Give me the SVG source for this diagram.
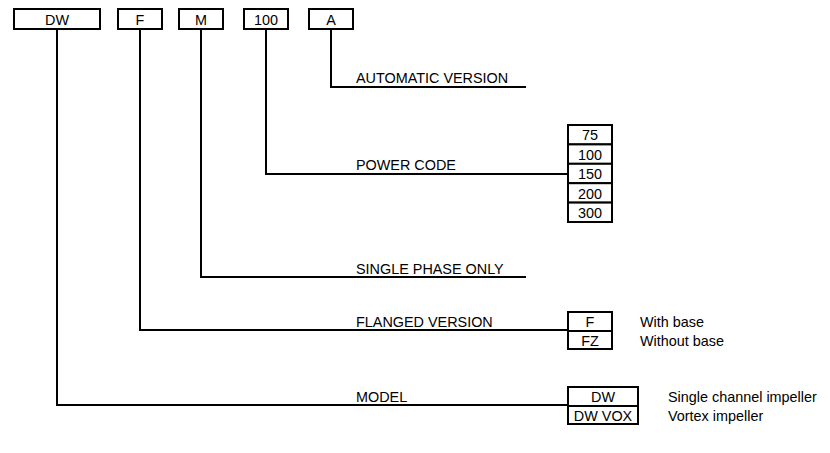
<svg xmlns="http://www.w3.org/2000/svg" width="830" height="453" viewBox="0 0 830 453">
<style>
.b{fill:#fff;stroke:#000;stroke-width:2}
.l{fill:none;stroke:#000;stroke-width:2}
text{font-family:"Liberation Sans",Arial,sans-serif;font-size:14.4px;fill:#000}
.c{text-anchor:middle}
</style>
<rect width="830" height="453" fill="#fff"/>
<g id="connectors">
<polyline class="l" points="331,29 331,87 526,87"/>
<polyline class="l" points="266,29 266,174 568,174"/>
<polyline class="l" points="201,29 201,277 526,277"/>
<polyline class="l" points="140,29 140,330 568,330"/>
<polyline class="l" points="57,29 57,405 568,405"/>
</g>
<g id="box-dw"><rect class="b" x="14" y="9" width="86" height="20"/><text class="c" x="57" y="24.5">DW</text></g>
<g id="box-f"><rect class="b" x="118" y="9" width="44" height="20"/><text class="c" x="140" y="24.5">F</text></g>
<g id="box-m"><rect class="b" x="179" y="9" width="44" height="20"/><text class="c" x="201" y="24.5">M</text></g>
<g id="box-100"><rect class="b" x="244" y="9" width="44" height="20"/><text class="c" x="266" y="24.5">100</text></g>
<g id="box-a"><rect class="b" x="309" y="9" width="44" height="20"/><text class="c" x="331" y="24.5">A</text></g>
<g id="label-auto"><text x="356" y="83">AUTOMATIC VERSION</text></g>
<g id="label-power"><text x="356" y="170">POWER CODE</text></g>
<g id="label-single"><text x="356" y="274">SINGLE PHASE ONLY</text></g>
<g id="label-flanged"><text x="356" y="327">FLANGED VERSION</text></g>
<g id="label-model"><text x="356" y="402">MODEL</text></g>
<g id="power-list">
<rect class="b" x="568" y="125" width="44" height="19.4"/>
<rect class="b" x="568" y="144.4" width="44" height="19.4"/>
<rect class="b" x="568" y="163.8" width="44" height="19.4"/>
<rect class="b" x="568" y="183.2" width="44" height="19.4"/>
<rect class="b" x="568" y="202.6" width="44" height="19.4"/>
<text class="c" x="590" y="140.3">75</text>
<text class="c" x="590" y="159.7">100</text>
<text class="c" x="590" y="179.1">150</text>
<text class="c" x="590" y="198.5">200</text>
<text class="c" x="590" y="217.9">300</text>
</g>
<g id="flange-list">
<rect class="b" x="568" y="312" width="44" height="19"/>
<rect class="b" x="568" y="331" width="44" height="18"/>
<text class="c" x="590" y="327">F</text>
<text class="c" x="590" y="345.5">FZ</text>
<text x="640" y="327">With base</text>
<text x="640" y="345.5">Without base</text>
</g>
<g id="model-list">
<rect class="b" x="568" y="387" width="70" height="19"/>
<rect class="b" x="568" y="406" width="70" height="18"/>
<text class="c" x="603" y="402">DW</text>
<text class="c" x="603" y="420.5">DW VOX</text>
<text x="668" y="402">Single channel impeller</text>
<text x="668" y="420.5">Vortex impeller</text>
</g>
</svg>
